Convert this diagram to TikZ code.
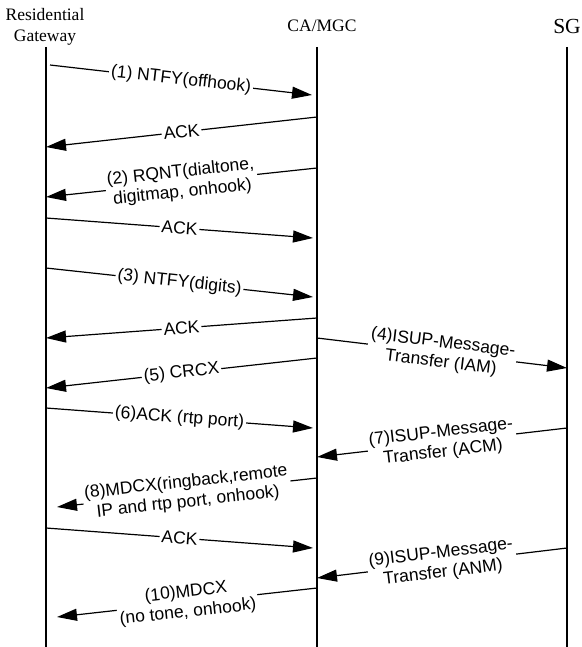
\documentclass[tikz,border=0pt]{standalone}
\usepackage{fontspec}
\usetikzlibrary{arrows.meta}
\newfontfamily\msgfont{Liberation Sans}
\newfontfamily\headfont{Liberation Serif}
\begin{document}
\begin{tikzpicture}[x=1pt,y=-1pt,
  lifeline/.style={line width=1.4pt},
  msg/.style={line width=1.2pt,-{Triangle[length=20pt,width=12pt]}},
  lbl/.style={midway,sloped,fill=white,inner xsep=2pt,inner ysep=1pt,
    font=\msgfont\fontsize{17.5}{20}\selectfont,align=center},
  head/.style={inner sep=0pt,font=\headfont\fontsize{17.5}{21}\selectfont,align=center}]
\useasboundingbox (0,0) rectangle (581,647);

% entity headers
\node[head] (rg) at (45,26.5) {Residential\\Gateway};
\node[head,anchor=base] (ca) at (322,31.5) {CA/MGC};
\node[head,anchor=base,font=\headfont\fontsize{21.5}{24}\selectfont] (sg) at (567,34) {SG};

% lifelines
\coordinate (rgTop) at (46,47);  \coordinate (rgBot) at (46,647);
\coordinate (caTop) at (317,47); \coordinate (caBot) at (317,647);
\coordinate (sgTop) at (567,47); \coordinate (sgBot) at (567,647);
\draw[lifeline] (rgTop) -- (rgBot);
\draw[lifeline] (caTop) -- (caBot);
\draw[lifeline] (sgTop) -- (sgBot);

% message end points
\coordinate (m1s) at (50,65);   \coordinate (m1e) at (312,95);
\coordinate (a1s) at (317,117); \coordinate (a1e) at (46,147);
\coordinate (m2s) at (317,168); \coordinate (m2e) at (46,197);
\coordinate (a2s) at (46,218);  \coordinate (a2e) at (313,238);
\coordinate (m3s) at (46,268);  \coordinate (m3e) at (313,297);
\coordinate (a3s) at (317,318); \coordinate (a3e) at (46,338);
\coordinate (m4s) at (317,338); \coordinate (m4e) at (567,368);
\coordinate (m5s) at (317,358); \coordinate (m5e) at (46,388);
\coordinate (m6s) at (46,408);  \coordinate (m6e) at (313,428);
\coordinate (m7s) at (567,428); \coordinate (m7e) at (317,457);
\coordinate (m8s) at (317,478); \coordinate (m8e) at (57,507);
\coordinate (a4s) at (46,528);  \coordinate (a4e) at (313,548);
\coordinate (m9s) at (567,548); \coordinate (m9e) at (317,578);
\coordinate (m10s) at (317,588); \coordinate (m10e) at (57,617);

% messages
\draw[msg] (m1s) -- node[lbl] (l1) {(1) NTFY(offhook)} (m1e);
\draw[msg] (a1s) -- node[lbl] (la1) {ACK} (a1e);
\draw[msg] (m2s) -- node[lbl] (l2) {(2) RQNT(dialtone,\\digitmap, onhook)} (m2e);
\draw[msg] (a2s) -- node[lbl] (la2) {ACK} (a2e);
\draw[msg] (m3s) -- node[lbl] (l3) {(3) NTFY(digits)} (m3e);
\draw[msg] (a3s) -- node[lbl] (la3) {ACK} (a3e);
\draw[msg] (m4s) -- node[lbl] (l4) {(4)ISUP-Message-\\Transfer (IAM)} (m4e);
\draw[msg] (m5s) -- node[lbl] (l5) {(5) CRCX} (m5e);
\draw[msg] (m6s) -- node[lbl] (l6) {(6)ACK (rtp port)} (m6e);
\draw[msg] (m7s) -- node[lbl] (l7) {(7)ISUP-Message-\\Transfer (ACM)} (m7e);
\draw[msg] (m8s) -- node[lbl] (l8) {(8)MDCX(ringback,remote\\IP and rtp port, onhook)} (m8e);
\draw[msg] (a4s) -- node[lbl] (la4) {ACK} (a4e);
\draw[msg] (m9s) -- node[lbl] (l9) {(9)ISUP-Message-\\Transfer (ANM)} (m9e);
\draw[msg] (m10s) -- node[lbl] (l10) {(10)MDCX\\(no tone, onhook)} (m10e);
\end{tikzpicture}
\end{document}
